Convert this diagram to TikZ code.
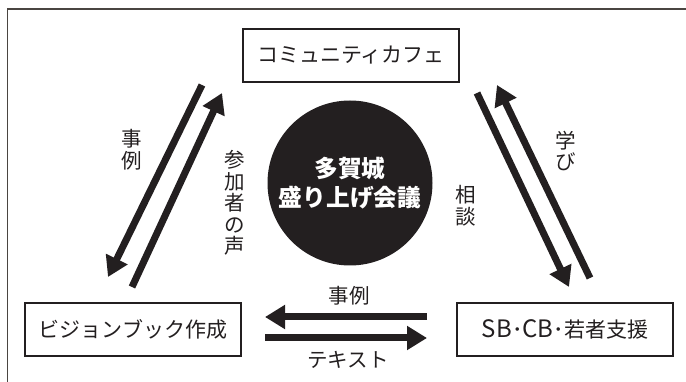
\documentclass[tikz,border=0pt]{standalone}
\usepackage{fontspec}
\setmainfont{Noto Sans CJK JP}
\usetikzlibrary{arrows.meta}
\definecolor{ink}{HTML}{231F20}
\definecolor{framec}{HTML}{4A4541}
\newcommand{\latbig}[1]{{\fontsize{24}{24}\selectfont #1}}
\tikzset{
  boxnode/.style={draw=ink, line width=1.3pt, minimum height=53pt, minimum width=216pt, inner sep=0pt, font=\fontsize{21}{24}\selectfont, text=ink},
  lbl/.style={font=\fontsize{20.5}{21.6}\selectfont, text=ink, inner sep=0pt, align=center},
  fat/.style={line width=7pt, draw=ink},
  fatarrow/.style={fat, -{Triangle[length=20pt,width=23pt]}},
}
\begin{document}
\begin{tikzpicture}[x=1pt,y=-1pt]
\useasboundingbox (0,0) rectangle (686,382);
% partial outer frame
\draw[framec, line width=1.6pt] (7.5,382) -- (7.5,9) -- (686,9);
% boxes
\node[boxnode] (cafe) at (351,55.5) {コミュニティカフェ};
\node[boxnode] (vision) at (133,329.5) {ビジョンブック作成};
\node[boxnode] (sb) at (565,329.5) {\latbig{SB}･\latbig{CB}･若者支援};
% circle
\node[circle, fill=ink, minimum size=165pt, inner sep=0pt, text=white, align=center,
      font=\fontsize{23.7}{29}\bfseries\selectfont] (kaigi) at (350,183) {多賀城\\盛り上げ会議};
% arrow end points
\coordinate (a1s) at (202,85);  \coordinate (a1e) at (108,277);
\coordinate (a2s) at (132,287); \coordinate (a2e) at (222,93);
\coordinate (a3s) at (477,93);  \coordinate (a3e) at (569,287);
\coordinate (a4s) at (590,278); \coordinate (a4e) at (497,85);
\coordinate (a5s) at (427,317); \coordinate (a5e) at (265,317);
\coordinate (a6s) at (265,338); \coordinate (a6e) at (427,338);
\draw[fatarrow] (a1s) -- (a1e);
\draw[fatarrow] (a2s) -- (a2e);
\draw[fatarrow] (a3s) -- (a3e);
\draw[fatarrow] (a4s) -- (a4e);
\draw[fatarrow] (a5s) -- (a5e);
\draw[fatarrow] (a6s) -- (a6e);
% labels
\node[lbl] (l1) at (132,150) {事\\例};
\node[lbl] (l2) at (235,203) {参\\加\\者\\の\\声};
\node[lbl] (l3) at (566,151) {学\\び};
\node[lbl] (l4) at (466,206) {相\\談};
\node[lbl] (l5) at (349,296) {事例};
\node[lbl] (l6) at (348,360) {テキスト};
\end{tikzpicture}
\end{document}
